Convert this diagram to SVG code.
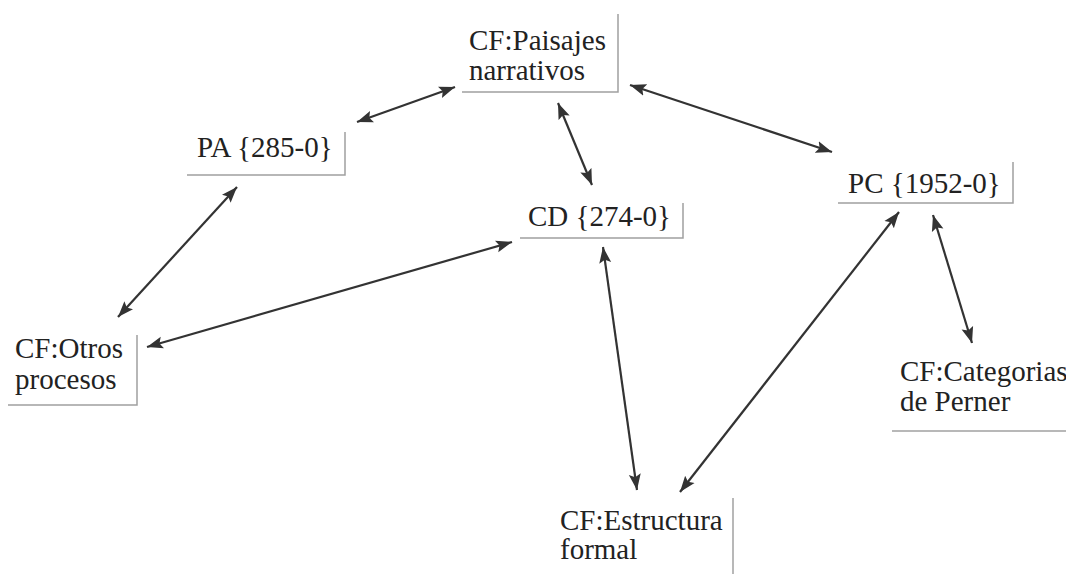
<svg xmlns="http://www.w3.org/2000/svg" width="1066" height="574" viewBox="0 0 1066 574">
<style>
.t{font-family:"Liberation Serif","Times New Roman","DejaVu Serif",serif;font-size:29px;fill:#222}
.b{fill:none;stroke:#a0a0a0;stroke-width:1.5}
.c{stroke:#333;stroke-width:2.2;fill:none;marker-start:url(#ah);marker-end:url(#ah)}
</style>
<defs>
<marker id="ah" markerUnits="userSpaceOnUse" markerWidth="18" markerHeight="14" refX="16" refY="6" orient="auto-start-reverse" viewBox="0 0 18 12">
<path d="M0,0 L16,6 L0,12 L3,6 Z" fill="#333"/>
</marker>
</defs>
<rect width="1066" height="574" fill="#fff"/>
<g id="connectors">
<line class="c" x1="357" y1="122" x2="455" y2="87"/>
<line class="c" x1="558" y1="103" x2="592" y2="185"/>
<line class="c" x1="630" y1="85" x2="832" y2="152"/>
<line class="c" x1="237" y1="187" x2="118" y2="317"/>
<line class="c" x1="512" y1="242" x2="147" y2="347"/>
<line class="c" x1="603" y1="247" x2="637" y2="490"/>
<line class="c" x1="899" y1="212" x2="680" y2="492"/>
<line class="c" x1="933" y1="215" x2="972" y2="343"/>
</g>
<g id="n-paisajes">
<path class="b" d="M462,92 H618 V14"/>
<text class="t" x="469" y="50">CF:Paisajes</text>
<text class="t" x="469" y="80">narrativos</text>
</g>
<g id="n-pa">
<path class="b" d="M187,175 H345 V132"/>
<text class="t" x="197" y="157">PA {285-0}</text>
</g>
<g id="n-cd">
<path class="b" d="M520,238 H683 V203"/>
<text class="t" x="528" y="226">CD {274-0}</text>
</g>
<g id="n-pc">
<path class="b" d="M838,203 H1013 V162"/>
<text class="t" x="848" y="193">PC {1952-0}</text>
</g>
<g id="n-otros">
<path class="b" d="M8,405 H137 V335"/>
<text class="t" x="15" y="358">CF:Otros</text>
<text class="t" x="15" y="389">procesos</text>
</g>
<g id="n-categorias">
<path class="b" d="M892,431 H1066"/>
<text class="t" x="900" y="381">CF:Categorias</text>
<text class="t" x="900" y="411">de Perner</text>
</g>
<g id="n-estructura">
<path class="b" d="M733,498 V574"/>
<text class="t" x="560" y="530">CF:Estructura</text>
<text class="t" x="560" y="559">formal</text>
</g>
</svg>
